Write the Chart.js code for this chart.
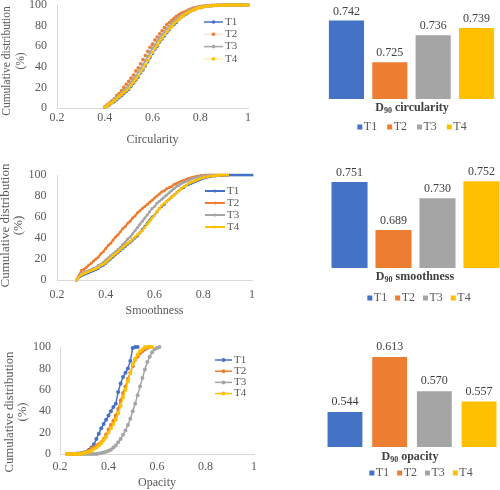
<!DOCTYPE html>
<html>
<head>
<meta charset="utf-8">
<script src="https://cdn.jsdelivr.net/npm/chart.js@4.4.1/dist/chart.umd.min.js"></script>
<style>
  html, body { margin: 0; padding: 0; background: #fff; }
  #page { position: relative; width: 500px; height: 490px; overflow: hidden; }
  canvas { position: absolute; }
</style>
</head>
<body>
<div id="page">
  <canvas id="circLine" width="260" height="150" style="left:0;top:0"></canvas>
  <canvas id="smoothLine" width="260" height="160" style="left:0;top:160px"></canvas>
  <canvas id="opacLine" width="260" height="160" style="left:0;top:330px"></canvas>
  <canvas id="circBar" width="177" height="140" style="left:323px;top:0"></canvas>
  <canvas id="smoothBar" width="177" height="150" style="left:327px;top:160px"></canvas>
  <canvas id="opacBar" width="180" height="160" style="left:322px;top:330px"></canvas>
</div>
<script>
// ---- data ----
const seriesNames = ['T1', 'T2', 'T3', 'T4'];

// circularity cumulative distribution (%)
const circX = [0.40,0.41,0.42,0.43,0.44,0.45,0.46,0.47,0.48,0.49,0.50,0.51,0.52,0.53,0.54,0.55,0.56,0.57,0.58,0.59,
  0.60,0.61,0.62,0.63,0.64,0.65,0.66,0.67,0.68,0.69,0.70,0.71,0.72,0.73,0.74,0.75,0.76,0.77,0.78,0.79,
  0.80,0.81,0.82,0.83,0.84,0.85,0.86,0.87,0.88,0.89,0.90,0.91,0.92,0.93,0.94,0.95,0.96,0.97,0.98,0.99,1.00];
const circT1 = [1,2,3,5,6,8,10,12,14,16,18,21,24,27,30,34,37,41,45,49,
  53,57,60,64,67,70,73,76,79,81,83,86,88,89.5,91,92.5,94,95,96,97,
  97.5,98,98.5,99,99,99.3,99.5,99.6,99.7,99.8,99.8,99.9,100,100,100,100,100,100,100,100,100];
const circT2 = [1,3,5,7,9,12,14,17,20,23,26,29,32,36,39,43,47,51,55,59,
  62,66,69,72,75,78,81,83,85,87,89,90.5,92,93,94,95,96,97,97.5,98,
  98.5,99,99,99.3,99.5,99.6,99.7,99.8,99.8,99.9,99.9,100,100,100,100,100,100,100,100,100,100];
const circT3 = [1,2,4,6,8,10,12,14,17,19,22,25,28,31,35,38,42,46,50,54,
  58,61,65,68,71,74,77,79,82,84,86,88,89.5,91,92.5,94,95,96,97,97.5,
  98,98.5,99,99,99.3,99.5,99.6,99.7,99.8,99.8,99.9,99.9,100,100,100,100,100,100,100,100,100];
const circT4 = [1,2,4,5,7,9,11,13,15,17,19,22,25,28,31,35,38,42,46,50,
  54,58,61,65,68,71,74,77,79,82,84,86,88,90,91.5,93,94,95,96,97,
  97.5,98,98.5,99,99,99.3,99.5,99.6,99.7,99.8,99.8,99.9,100,100,100,100,100,100,100,100,100];

// smoothness cumulative distribution (%)
const smoothX = [0.28,0.30,0.31,0.32,0.33,0.34,0.35,0.36,0.37,0.38,0.39,0.40,0.41,0.42,0.43,0.44,0.45,0.46,0.47,0.48,0.49,
  0.50,0.51,0.52,0.53,0.54,0.55,0.56,0.57,0.58,0.59,0.60,0.61,0.62,0.63,0.64,0.65,0.66,0.67,0.68,0.69,
  0.70,0.71,0.72,0.73,0.74,0.75,0.76,0.77,0.78,0.79,0.80,0.81,0.82,0.83,0.84,0.85,0.86,0.87,0.88,0.89,
  0.90,0.91,0.92,0.93,0.94,0.95,0.96,0.97,0.98,0.99,1.00];
const smoothT1 = [0,4,5,6,7,8,9,10,11,13,14,16,18,20,22,24,26,28,30,32,34,
  36,38,40,42,45,48,51,54,57,60,62,65,68,70,72,75,77,79,81,83,
  85,87,88,90,91,92,93,94,95,96,97,97.5,98,98.5,99,99,99.5,99.5,99.5,99.8,
  99.8,100,100,100,100,100,100,100,100,100,100];
const smoothT2 = [0,9,10,12,14,16,18,20,22,25,27,30,33,35,38,41,43,46,49,51,54,
  56,59,61,64,66,68,70,72,74,76,78,80,82,84,85,87,88,89,91,92,
  93,94,95,96,97,97.5,98,98.5,99,99.5,99.5,100,100,100,100,100,100,100,100,100,
  100];
const smoothT3 = [0,6,7,8,9,10,11,12,14,15,17,19,21,23,25,27,29,31,34,36,39,
  41,44,47,50,53,56,59,62,65,68,70,73,75,77,79,81,83,85,87,89,
  90,92,93,94,95,96,97,97.5,98,98.5,99,99,99.5,100,100,100,100,100,100,100,
  100];
const smoothT4 = [0,5,6,7,8,9,10,11,12,14,15,17,19,21,23,25,27,29,31,33,35,
  37,39,41,43,45,47,50,53,56,59,62,65,68,71,73,75,77,79,81,83,
  85,87,89,90,92,93,94,95,96,97,97.5,98,98.5,99,99,99.5,99.5,100,100,100,
  100];

// opacity cumulative distribution (%)
const opacX = [0.23,0.24,0.25,0.26,0.27,0.28,0.29,0.30,0.31,0.32,0.33,0.34,0.35,0.36,0.37,0.38,0.39,
  0.40,0.41,0.42,0.43,0.44,0.45,0.46,0.47,0.48,0.49,0.50,0.51,0.52,0.53,0.54,0.55,0.56,0.57,0.58,0.59,0.60,0.61];
const opacT1 = [0,0,0,0,0.5,0.5,1,1.5,2,4,6,9,14,19,24,28,32,
  36,40,44,47,58,66,72,76,80,87,99,100,100];
const opacT2 = [0,0,0,0,0,0,0.5,1,2,3,5,6,8,9,11,14,18,
  23,27,31,36,42,50,57,63,70,76,82,88,91,94,96,98,99,100];
const opacT3 = [0,0,0,0,0,0,0,0,0,0,0,0,0,0.5,1,1.5,2,
  3,4,6,8,11,14,18,22,27,33,40,47,55,63,71,79,86,91,95,98,99,100];
const opacT4 = [0,0,0,0,0,0,0.5,1,1.5,2,3,5,6,8,10,13,16,
  20,24,28,32,38,45,53,60,68,76,84,89,93,96,98,100,100,100,100];

// D90 values
const d90Circularity = [0.742, 0.725, 0.736, 0.739];
const d90Smoothness = [0.751, 0.689, 0.730, 0.752];
const d90Opacity = [0.544, 0.613, 0.570, 0.557];

const yTitleLines = ['Cumulative distribution', '(%)'];

// ---- styling ----
const serif = '"Liberation Serif", "Times New Roman", serif';
const textGray = '#595959';
const axisLine = '#d9d9d9';
const seriesColors = ['#4472C4', '#ED7D31', '#A5A5A5', '#FFC000'];

// legend inside the line plots + rotated y title
const lineLegendPlugin = {
  id: 'lineLegend',
  afterDraw(chart, args, o) {
    const ctx = chart.ctx;
    ctx.save();
    ctx.font = `11px ${serif}`;
    ctx.textBaseline = 'middle';
    ctx.textAlign = 'left';
    chart.data.datasets.forEach((ds, i) => {
      const y = o.top + i * o.step;
      ctx.strokeStyle = ds.borderColor;
      ctx.lineWidth = ds.borderWidth;
      ctx.beginPath();
      ctx.moveTo(o.left, y);
      ctx.lineTo(o.left + o.len, y);
      ctx.stroke();
      ctx.fillStyle = ds.pointBackgroundColor;
      ctx.beginPath();
      ctx.arc(o.left + o.len / 2, y, ds.pointRadius, 0, Math.PI * 2);
      ctx.fill();
      ctx.fillStyle = textGray;
      ctx.fillText(ds.label, o.left + o.len + 2, y);
    });

    // y axis title, two rotated lines
    ctx.font = `${o.titleSize}px ${serif}`;
    ctx.textAlign = 'center';
    ctx.fillStyle = textGray;
    yTitleLines.forEach((line, i) => {
      ctx.save();
      ctx.translate(o.titleX + i * o.titleGap, o.titleY);
      ctx.rotate(-Math.PI / 2);
      ctx.fillText(line, 0, 0);
      ctx.restore();
    });
    ctx.restore();
  }
};

// value labels, D90 category title and legend of the bar charts
const barDecorPlugin = {
  id: 'barDecor',
  afterDatasetsDraw(chart, args, o) {
    const ctx = chart.ctx;
    ctx.save();
    ctx.textBaseline = 'middle';

    // labels above the bars
    ctx.font = `12px ${serif}`;
    ctx.fillStyle = '#404040';
    ctx.textAlign = 'center';
    chart.data.datasets.forEach((ds, i) => {
      const bar = chart.getDatasetMeta(i).data[0];
      ctx.fillText(ds.data[0].toFixed(3), bar.x, bar.y - o.labelGap);
    });

    // title with subscript (D90 ...)
    const bold = `bold 12px ${serif}`;
    const boldSub = `bold 8px ${serif}`;
    ctx.textAlign = 'left';
    ctx.font = bold;
    const w1 = ctx.measureText(o.titleMain).width;
    const w3 = ctx.measureText(o.titleRest).width;
    ctx.font = boldSub;
    const w2 = ctx.measureText(o.titleSub).width;
    let x = o.titleX - (w1 + w2 + w3) / 2;
    ctx.font = bold;
    ctx.fillText(o.titleMain, x, o.titleY);
    x += w1;
    ctx.font = boldSub;
    ctx.fillText(o.titleSub, x, o.titleY + 3);
    x += w2;
    ctx.font = bold;
    ctx.fillText(o.titleRest, x, o.titleY);

    // legend
    ctx.font = `12px ${serif}`;
    const items = chart.data.datasets.map(ds => ({
      label: ds.label,
      color: ds.backgroundColor,
      w: ctx.measureText(ds.label).width
    }));
    const total = items.reduce((s, it) => s + o.box + o.boxGap + it.w, 0) + o.itemGap * (items.length - 1);
    x = o.legendX - total / 2;
    items.forEach(it => {
      ctx.fillStyle = it.color;
      ctx.fillRect(x, o.legendY - o.box / 2, o.box, o.box);
      x += o.box + o.boxGap;
      ctx.fillStyle = textGray;
      ctx.fillText(it.label, x, o.legendY);
      x += it.w + o.itemGap;
    });
    ctx.restore();
  }
};

/**
 * Cumulative distribution chart (left column)
 */
function makeLineChart(id, xs, series, cfg) {
  const datasets = series.map((vals, i) => ({
    label: seriesNames[i],
    data: vals.map((v, j) => ({ x: xs[j], y: v })),
    borderColor: cfg.lineColors ? cfg.lineColors[i] : seriesColors[i],
    backgroundColor: seriesColors[i],
    pointBackgroundColor: seriesColors[i],
    pointBorderWidth: 0,
    pointRadius: cfg.pointRadius,
    borderWidth: cfg.lineWidth,
    clip: false,
    order: series.length - i
  }));

  return new Chart(document.getElementById(id), {
    type: 'line',
    data: { datasets: datasets },
    options: {
      responsive: false,
      animation: false,
      devicePixelRatio: 1,
      layout: { padding: cfg.padding },
      scales: {
        x: {
          type: 'linear',
          min: 0.2,
          max: 1,
          ticks: {
            stepSize: 0.2,
            color: textGray,
            font: { family: serif, size: 12 },
            padding: cfg.xTickPad,
            maxRotation: 0,
            callback: v => String(Math.round(v * 10) / 10)
          },
          grid: { display: false, drawTicks: false },
          border: { display: true, color: axisLine },
          title: {
            display: true,
            text: cfg.xTitle,
            color: textGray,
            font: { family: serif, size: 12 },
            padding: { top: 0, bottom: cfg.xTitlePad }
          },
          afterFit: s => { s.height = cfg.xHeight; s.paddingLeft = 0; s.paddingRight = 0; }
        },
        y: {
          min: 0,
          max: 100,
          ticks: { stepSize: 20, color: textGray, font: { family: serif, size: 12 }, padding: cfg.yTickPad },
          grid: { display: false, drawTicks: false },
          border: { display: true, color: axisLine },
          afterFit: s => { s.width = cfg.yWidth; s.paddingTop = 0; s.paddingBottom = 0; }
        }
      },
      plugins: {
        legend: { display: false },
        tooltip: { enabled: false },
        lineLegend: cfg.legend
      }
    },
    plugins: [lineLegendPlugin]
  });
}

/**
 * D90 bar chart (right column)
 */
function makeBarChart(id, values, cfg) {
  return new Chart(document.getElementById(id), {
    type: 'bar',
    data: {
      labels: ['D90'],
      datasets: values.map((v, i) => ({
        label: seriesNames[i],
        data: [v],
        backgroundColor: seriesColors[i],
        categoryPercentage: cfg.catPct,
        barPercentage: cfg.barPct
      }))
    },
    options: {
      responsive: false,
      animation: false,
      devicePixelRatio: 1,
      layout: { padding: cfg.padding },
      scales: {
        x: { display: false },
        y: { display: false, min: cfg.yMin, max: cfg.yMax }
      },
      plugins: {
        legend: { display: false },
        tooltip: { enabled: false },
        barDecor: cfg.decor
      }
    },
    plugins: [barDecorPlugin]
  });
}

makeLineChart('circLine', circX, [circT1, circT2, circT3, circT4], {
  padding: { top: 5, right: 12, left: 0, bottom: 0 },
  yWidth: 57, xHeight: 42, xTickPad: 3, xTitlePad: 2.8, yTickPad: 10,
  xTitle: 'Circularity',
  lineColors: ['#4472C4', '#fbe3d3', '#A5A5A5', '#ffecb0'],
  pointRadius: 1.8, lineWidth: 1.5,
  legend: { left: 204, len: 19, top: 22, step: 12.3, titleX: 7, titleGap: 13.5, titleY: 61, titleSize: 11.5 }
});

makeLineChart('smoothLine', smoothX, [smoothT1, smoothT2, smoothT3, smoothT4], {
  padding: { top: 15, right: 8, left: 0, bottom: 0 },
  yWidth: 57, xHeight: 40, xTickPad: 8, xTitlePad: 1.8, yTickPad: 10.5,
  xTitle: 'Smoothness',
  pointRadius: 1.5, lineWidth: 2,
  legend: { left: 205, len: 20, top: 31, step: 12, titleX: 6, titleGap: 12.5, titleY: 65.5, titleSize: 13 }
});

makeLineChart('opacLine', opacX, [opacT1, opacT2, opacT3, opacT4], {
  padding: { top: 17, right: 6, left: 0, bottom: 0 },
  yWidth: 60, xHeight: 36, xTickPad: 5.5, xTitlePad: 0, yTickPad: 9,
  xTitle: 'Opacity',
  pointRadius: 2, lineWidth: 1.5,
  legend: { left: 215, len: 17, top: 30, step: 11.2, titleX: 10, titleGap: 13, titleY: 82, titleSize: 12.7 }
});

makeBarChart('circBar', d90Circularity, {
  padding: { top: 1, bottom: 41, left: 0, right: 0 },
  yMin: 0.71, yMax: 0.75, catPct: 0.98, barPct: 0.81,
  decor: {
    labelGap: 9, titleMain: 'D', titleSub: '90', titleRest: ' circularity',
    titleX: 89, titleY: 108, legendX: 89, legendY: 127,
    box: 5, boxGap: 1.5, itemGap: 10
  }
});

makeBarChart('smoothBar', d90Smoothness, {
  padding: { top: 15, bottom: 42, left: 0, right: 0 },
  yMin: 0.64, yMax: 0.76, catPct: 0.994, barPct: 0.82,
  decor: {
    labelGap: 9, titleMain: 'D', titleSub: '90', titleRest: ' smoothness',
    titleX: 88, titleY: 117, legendX: 92, legendY: 138,
    box: 5, boxGap: 1.5, itemGap: 8
  }
});

makeBarChart('opacBar', d90Opacity, {
  padding: { top: 21.4, bottom: 43, left: 0, right: 0 },
  yMin: 0.50, yMax: 0.62, catPct: 0.993, barPct: 0.78,
  decor: {
    labelGap: 10, titleMain: 'D', titleSub: '90', titleRest: ' opacity',
    titleX: 88, titleY: 127, legendX: 99, legendY: 143,
    box: 5, boxGap: 1.5, itemGap: 8
  }
});
</script>
</body>
</html>
